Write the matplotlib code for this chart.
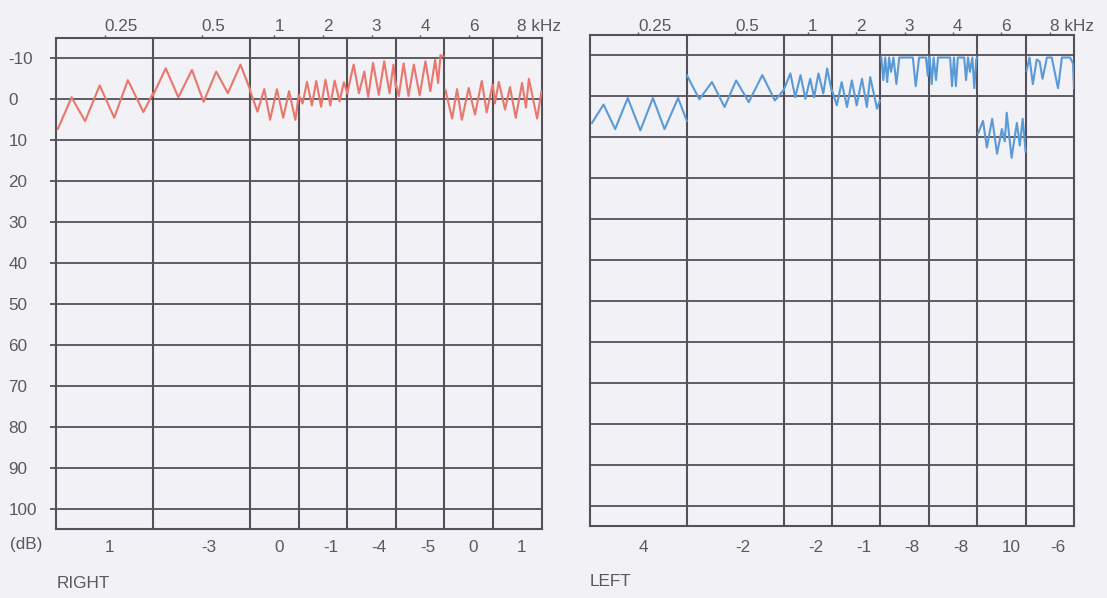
import matplotlib
matplotlib.use('Agg')
import matplotlib.pyplot as plt
from matplotlib import font_manager

names = {f.name for f in font_manager.fontManager.ttflist}
if 'Liberation Sans Narrow' in names:
    FONT = ['Liberation Sans Narrow', 'DejaVu Sans']
    FS = 13.5
else:
    FONT = ['Liberation Sans', 'DejaVu Sans']
    FS = 12.3
plt.rcParams['font.family'] = FONT

# ---------------- data ----------------
freq_labels = ['0.25', '0.5', '1', '2', '3', '4', '6', '8 kHz']
band_widths = [2, 2, 1, 1, 1, 1, 1, 1]
db_ticks = [-10, 0, 10, 20, 30, 40, 50, 60, 70, 80, 90, 100]
db_tick_labels = ['-10', '0', '10', '20', '30', '40', '50', '60', '70', '80', '90', '100']

right_offsets = ['1', '-3', '0', '-1', '-4', '-5', '0', '1']
left_offsets = ['4', '-2', '-2', '-1', '-8', '-8', '10', '-6']

# Bekesy tracing of the RIGHT ear: per frequency band, position within band (0..1) and level (dB)
right_t = [
    [0.02, 0.16, 0.30, 0.45, 0.60, 0.74, 0.90, 1.0],
    [0.0, 0.13, 0.26, 0.40, 0.52, 0.65, 0.77, 0.90, 1.0],
    [0.0, 0.15, 0.29, 0.41, 0.55, 0.68, 0.80, 0.93, 1.0],
    [0.0, 0.08, 0.17, 0.27, 0.36, 0.46, 0.55, 0.65, 0.74, 0.84, 0.93, 1.0],
    [0.0, 0.13, 0.24, 0.35, 0.43, 0.53, 0.65, 0.76, 0.87, 0.95, 1.0],
    [0.0, 0.06, 0.16, 0.26, 0.37, 0.49, 0.61, 0.71, 0.81, 0.87, 0.92, 0.98],
    [0.02, 0.16, 0.26, 0.36, 0.50, 0.63, 0.77, 0.87, 0.99],
    [0.0, 0.04, 0.12, 0.25, 0.35, 0.47, 0.60, 0.68, 0.74, 0.91, 1.0],
]
right_db = [
    [7.2, -0.5, 5.3, -3.4, 4.5, -4.7, 3.1, -1.5],
    [-1, -7.6, -0.5, -7.2, 0.6, -6.8, -1.5, -8.5, -2.3],
    [-2, 3, -2.5, 5, -2.5, 4.5, -2, 5, -1],
    [-1, 1.0, -4.3, 1.5, -4.5, 1.8, -4.8, 1.5, -4.6, 0.5, -4.2, -1.5],
    [-1.5, -8.5, -1.5, -6.8, -0.6, -8.9, -1.1, -9.3, -1.5, -8.5, -3],
    [-4, -0.8, -8.8, -0.8, -8.5, -1, -9.3, -2, -9.7, -4, -10.8, -10.5],
    [-2.3, 4.7, -2.5, 5, -2.8, 3.7, -4.5, 3.2, -3.5],
    [-3.5, 1, -4.3, 2.5, -3, 4.5, -4, 2, -5, 4.7, -2],
]

# Bekesy tracing of the LEFT ear
left_t = [
    [0.02, 0.14, 0.26, 0.39, 0.52, 0.65, 0.77, 0.91, 1.0],
    [0.0, 0.13, 0.26, 0.39, 0.51, 0.64, 0.78, 0.91, 1.0],
    [0.0, 0.14, 0.24, 0.35, 0.45, 0.55, 0.63, 0.72, 0.82, 0.90, 0.99],
    [0.0, 0.10, 0.20, 0.31, 0.41, 0.51, 0.62, 0.72, 0.79, 0.93, 0.99],
    [0.02, 0.06, 0.10, 0.14, 0.18, 0.22, 0.27, 0.33, 0.39, 0.67, 0.73, 0.80, 0.94, 0.98, 1.0],
    [0.02, 0.06, 0.10, 0.15, 0.19, 0.44, 0.48, 0.52, 0.56, 0.60, 0.73, 0.77, 0.81, 0.85, 0.90, 0.94, 0.98, 1.0],
    [0.02, 0.12, 0.20, 0.31, 0.41, 0.51, 0.57, 0.61, 0.71, 0.82, 0.88, 0.94, 1.0],
    [0.02, 0.08, 0.15, 0.23, 0.29, 0.35, 0.44, 0.54, 0.67, 0.75, 0.92, 0.98, 1.0],
]
left_db = [
    [6.5, 2, 8, 0.4, 8.3, 0.4, 8, 0.4, 6],
    [-5.2, 0.7, -3.5, 2.6, -3.9, 1.4, -5.2, 1.0, -1.5],
    [-1.5, -5.6, 0.2, -5.2, 0.6, -4.3, 0.2, -5.6, -0.7, -6.8, -1.5],
    [-1.5, 2.2, -3.5, 2.6, -3.9, 2.2, -4.3, 2.6, -4.7, 3.0, 1.0],
    [-9.5, -4, -9.5, -3.5, -9.5, -6, -9.5, -3, -9.5, -9.5, -2.5, -9.5, -9.5, -5, -9.5],
    [-9.5, -3, -9.5, -4, -9.5, -9.5, -2.5, -9.5, -2.5, -9.5, -9.5, -4, -9.5, -6, -9.5, -2, -9, -9.5],
    [9, 6, 12.5, 5.5, 14, 8, 11, 4, 15, 6.5, 12, 5.5, 13.5],
    [-6.3, -9.5, -3, -9, -8.5, -4.3, -9.5, -9.5, -2, -9.5, -9.5, -8, -2],
]

# ---------------- style ----------------
BG = '#f1f1f6'
GC = '#545059'
TC = '#58585f'
RED = '#e8776c'
BLUE = '#5a9ad6'

W, H = 1107, 598
fig = plt.figure(figsize=(W / 100, H / 100), dpi=100, facecolor=BG)

edges = [0]
for w in band_widths:
    edges.append(edges[-1] + w)
centers = [edges[i] + band_widths[i] / 2 for i in range(len(band_widths))]


def setup(ax, offsets, label_off_px, top_pad, show_y):
    ax.set_facecolor(BG)
    ax.set_xlim(edges[0], edges[-1])
    ax.set_ylim(105, -15)
    for e in edges[1:-1]:
        ax.axvline(e, color=GC, lw=1.5, zorder=1)
    for d in db_ticks:
        ax.axhline(d, color=GC, lw=1.3, zorder=1)
    for s in ax.spines.values():
        s.set_color(GC)
        s.set_linewidth(1.5)
    ax.xaxis.tick_top()
    ax.set_xticks(centers)
    ax.set_xticklabels(freq_labels, fontsize=FS, color=TC, ha='left')
    ax.tick_params(axis='x', length=2, width=1, color=GC, pad=top_pad, direction='out')
    if show_y:
        ax.set_yticks(db_ticks)
        ax.set_yticklabels(db_tick_labels, fontsize=FS, color=TC)
        ax.tick_params(axis='y', length=4, width=1.3, color=GC, pad=30.2, direction='out')
        for lab in ax.get_yticklabels():
            lab.set_horizontalalignment('left')
    else:
        ax.set_yticks([])
    for c, txt in zip(centers, offsets):
        ax.annotate(txt, xy=(c, 0), xycoords=('data', 'axes fraction'),
                    xytext=(0, label_off_px), textcoords='offset pixels',
                    ha='left', va='center', fontsize=FS, color=TC)


def trace(ax, ts, dbs, color):
    for i, (t, d) in enumerate(zip(ts, dbs)):
        xs = [edges[i] + band_widths[i] * v for v in t]
        ax.plot(xs, d, color=color, lw=1.5, zorder=3)


axL = fig.add_axes([56 / W, (H - 529) / H, 485.5 / W, 491 / H])
axR = fig.add_axes([590 / W, (H - 526) / H, 484 / W, 491 / H])

setup(axL, right_offsets, -18, 1, True)
setup(axR, left_offsets, -22, -1, False)
trace(axL, right_t, right_db, RED)
trace(axR, left_t, left_db, BLUE)

fig.text(10 / W, 1 - 545 / H, '(dB)', fontsize=FS, color=TC, ha='left', va='center')
fig.text(57 / W, 1 - 583 / H, 'RIGHT', fontsize=FS, color=TC, ha='left', va='center')
fig.text(590 / W, 1 - 581 / H, 'LEFT', fontsize=FS, color=TC, ha='left', va='center')

fig.savefig('out.png', dpi=100, facecolor=BG)
